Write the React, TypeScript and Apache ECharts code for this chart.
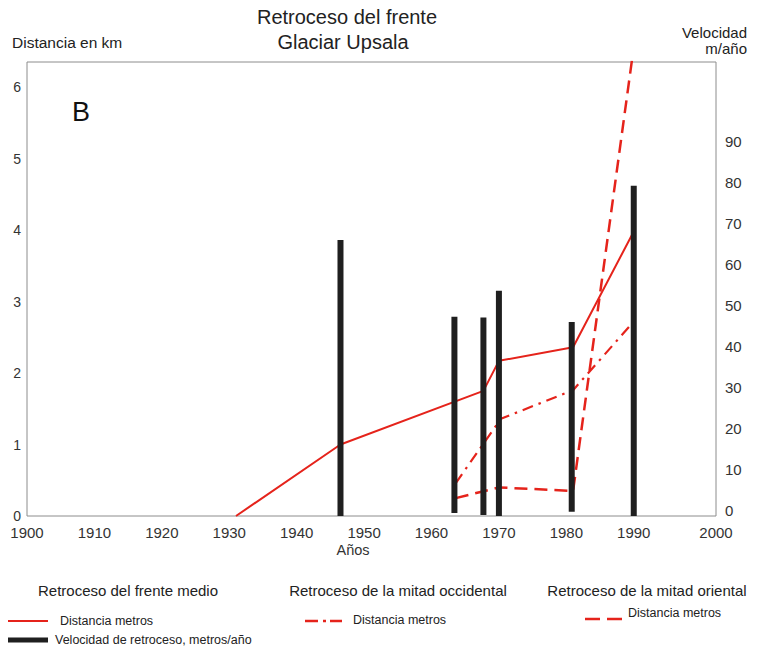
import React, { useEffect, useRef } from "react";
import * as echarts from "echarts";

// ---- data ----
const barYears = [1946.5, 1963.4, 1967.7, 1970, 1980.8, 1990];
const barSpeeds = [66.1, 47.4, 47.2, 53.7, 46.1, 79.3]; // m/año
const barBases = [-1.2, -0.5, -1.0, -1.2, -0.2, -1.2];

const medioYears = [1931, 1946.5, 1967.7, 1970, 1981, 1990];
const medioKm = [0, 1.0, 1.75, 2.17, 2.36, 3.98];

const occidentalYears = [1963.6, 1970.3, 1981, 1990];
const occidentalKm = [0.46, 1.36, 1.76, 2.72];

const orientalYears = [1963.6, 1970, 1981, 1990];
const orientalKm = [0.25, 0.4, 0.35, 6.56];

const xTicks = [1900, 1910, 1920, 1930, 1940, 1950, 1960, 1970, 1980, 1990];
const xEndLabel = "2000";
const leftTicks = [0, 1, 2, 3, 4, 5, 6];
const rightTicks = [0, 10, 20, 30, 40, 50, 60, 70, 80, 90];

const RED = "#e5231b";
const FONT = "'Liberation Sans', Arial, Helvetica, sans-serif";
const X_MAX = 2002.2;

export default function App() {
  const ref = useRef<HTMLDivElement>(null);

  useEffect(() => {
    if (!ref.current) return;
    const chart = echarts.init(ref.current, null, { renderer: "svg" });

    const pairs = (xs: number[], ys: number[]) => xs.map((x, i) => [x, ys[i]]);

    const textStyle = (t: string, x: number, y: number, size: number, align = "left", extra: any = {}) => ({
      type: "text",
      x,
      y,
      style: {
        text: t,
        fontSize: size,
        fontFamily: FONT,
        fill: "#222",
        textAlign: align,
        textVerticalAlign: "middle",
        ...extra,
      },
    });

    const option: any = {
      animation: false,
      backgroundColor: "#fff",
      textStyle: { fontFamily: FONT },
      grid: {
        left: 27,
        right: 44,
        top: 62,
        bottom: 132,
        show: true,
        borderColor: "#8c8c8c",
        borderWidth: 1,
        backgroundColor: "transparent",
      },
      xAxis: {
        type: "value",
        min: 1900,
        max: X_MAX,
        axisLine: { show: false },
        axisTick: { show: false },
        splitLine: { show: false },
        axisLabel: {
          customValues: [...xTicks, X_MAX],
          formatter: (v: number) => (v > 2000 ? xEndLabel : String(Math.round(v))),
          fontSize: 15,
          lineHeight: 15,
          color: "#333",
          margin: 9,
          fontFamily: FONT,
        },
      },
      yAxis: [
        {
          type: "value",
          min: 0,
          max: 6.35,
          position: "left",
          axisLine: { show: false },
          axisTick: { show: false },
          splitLine: { show: false },
          axisLabel: {
            customValues: leftTicks,
            fontSize: 14,
            lineHeight: 14,
            color: "#333",
            margin: 6,
            fontFamily: FONT,
          },
        },
        {
          type: "value",
          min: -1.22,
          max: 109.5,
          position: "right",
          axisLine: { show: false },
          axisTick: { show: false },
          splitLine: { show: false },
          axisLabel: {
            customValues: rightTicks,
            fontSize: 15,
            lineHeight: 15,
            color: "#333",
            margin: 9,
            fontFamily: FONT,
          },
        },
      ],
      series: [
        {
          type: "line",
          name: "medio",
          yAxisIndex: 0,
          data: pairs(medioYears, medioKm),
          showSymbol: false,
          symbol: "none",
          lineStyle: { color: RED, width: 2 },
          z: 2,
        },
        {
          type: "line",
          name: "occidental",
          yAxisIndex: 0,
          data: pairs(occidentalYears, occidentalKm),
          showSymbol: false,
          symbol: "none",
          lineStyle: { color: RED, width: 2.2, type: [11, 6, 2.5, 6] },
          z: 2,
        },
        {
          type: "line",
          name: "oriental",
          yAxisIndex: 0,
          data: pairs(orientalYears, orientalKm),
          showSymbol: false,
          symbol: "none",
          clip: true,
          lineStyle: { color: RED, width: 2.5, type: [13, 7] },
          z: 2,
        },
        {
          type: "custom",
          name: "velocidad",
          yAxisIndex: 1,
          data: barYears.map((y, i) => [y, barSpeeds[i], barBases[i]]),
          z: 3,
          renderItem: (params: any, api: any) => {
            const top = api.coord([api.value(0), api.value(1)]);
            const base = api.coord([api.value(0), api.value(2)]);
            const w = 6;
            return {
              type: "rect",
              shape: { x: top[0] - w / 2, y: top[1], width: w, height: base[1] - top[1] },
              style: { fill: "#1f1f1f" },
            };
          },
        },
      ],
      graphic: [
        textStyle("Retroceso del frente", 347, 17, 20, "center"),
        textStyle("Glaciar Upsala", 343, 42, 20, "center"),
        textStyle("Distancia en km", 12, 42, 15.5, "left"),
        textStyle("Velocidad", 747, 32, 15, "right"),
        textStyle("m/año", 747, 48, 15, "right"),
        textStyle("B", 81, 112, 27, "center", { fill: "#111" }),
        textStyle("Años", 353, 550, 14.5, "center", { fill: "#333" }),
        textStyle("Retroceso del frente medio", 128, 590, 15, "center"),
        textStyle("Retroceso de la mitad occidental", 398, 590, 15, "center"),
        textStyle("Retroceso de la mitad oriental", 647, 590, 15, "center"),
        // legend: medio
        { type: "line", shape: { x1: 8, y1: 621, x2: 48, y2: 621 }, style: { stroke: RED, lineWidth: 2 } },
        textStyle("Distancia metros", 60, 621, 12.5, "left"),
        { type: "line", shape: { x1: 8, y1: 640, x2: 48, y2: 640 }, style: { stroke: "#1f1f1f", lineWidth: 5 } },
        textStyle("Velocidad de retroceso, metros/año", 55, 640, 12.5, "left"),
        // legend: occidental
        { type: "line", shape: { x1: 305, y1: 621, x2: 318, y2: 621 }, style: { stroke: RED, lineWidth: 2.5 } },
        { type: "line", shape: { x1: 323, y1: 621, x2: 326, y2: 621 }, style: { stroke: RED, lineWidth: 2.5 } },
        { type: "line", shape: { x1: 330, y1: 621, x2: 342, y2: 621 }, style: { stroke: RED, lineWidth: 2.5 } },
        textStyle("Distancia metros", 353, 620, 12.5, "left"),
        // legend: oriental
        { type: "line", shape: { x1: 585, y1: 619, x2: 600, y2: 619 }, style: { stroke: RED, lineWidth: 2.5 } },
        { type: "line", shape: { x1: 607, y1: 619, x2: 622, y2: 619 }, style: { stroke: RED, lineWidth: 2.5 } },
        textStyle("Distancia metros", 628, 613, 12.5, "left"),
      ],
    };

    chart.setOption(option);
    return () => chart.dispose();
  }, []);

  return <div ref={ref} style={{ width: 760, height: 648, position: "absolute", left: 0, top: 0 }} />;
}
